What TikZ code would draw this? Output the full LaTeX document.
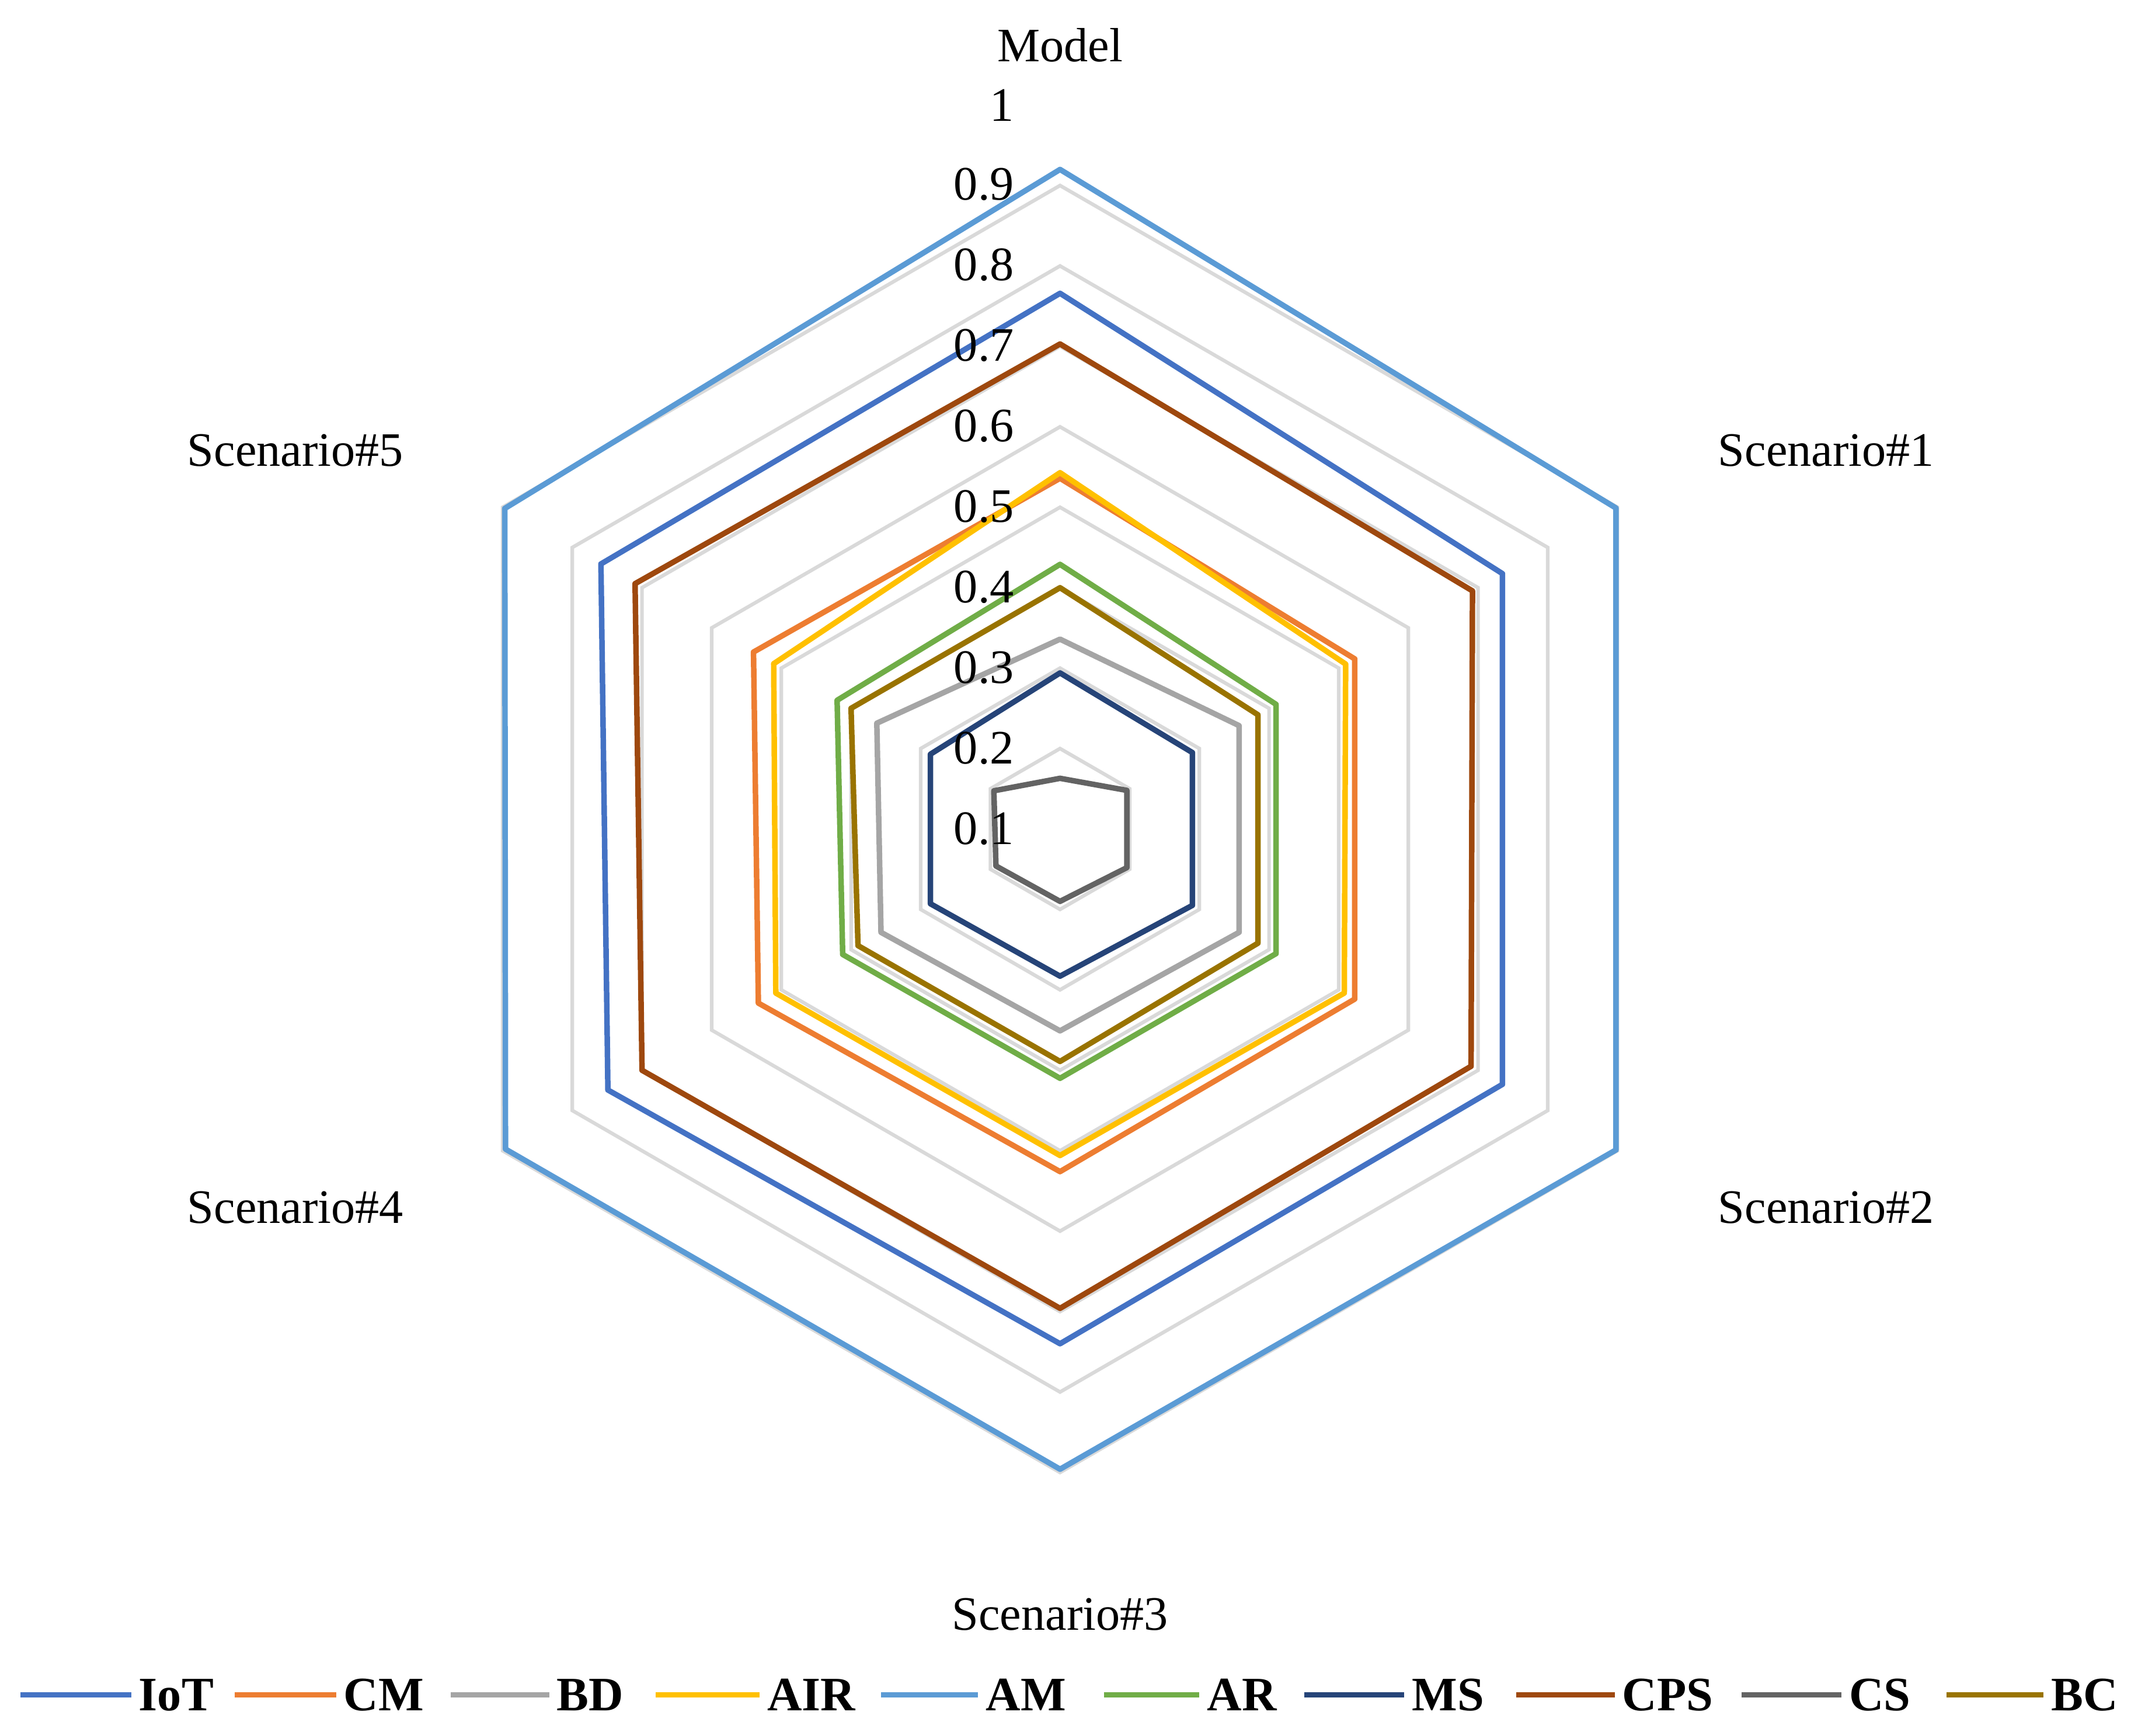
\documentclass[tikz,border=0pt]{standalone}
\usepackage{fontspec}
\setmainfont{Liberation Serif}
\definecolor{cIoT}{HTML}{4472C4}
\definecolor{cCM}{HTML}{ED7D31}
\definecolor{cBD}{HTML}{A5A5A5}
\definecolor{cAIR}{HTML}{FFC000}
\definecolor{cAM}{HTML}{5B9BD5}
\definecolor{cAR}{HTML}{70AD47}
\definecolor{cMS}{HTML}{264478}
\definecolor{cCPS}{HTML}{9E480E}
\definecolor{cCS}{HTML}{636363}
\definecolor{cBC}{HTML}{997300}
\definecolor{grid}{HTML}{D9D9D9}
\newcommand{\radar}[7]{\draw[series,#1] (90:{(#2-0.1)*588.9}) -- (30:{(#3-0.1)*588.9}) -- (-30:{(#4-0.1)*588.9}) -- (-90:{(#5-0.1)*588.9}) -- (-150:{(#6-0.1)*588.9}) -- (150:{(#7-0.1)*588.9}) -- cycle;}
\begin{document}
\begin{tikzpicture}[x=0.01cm,y=0.01cm,
  series/.style={line width=1.15pt,line join=round},
  gridline/.style={draw=grid,line width=0.75pt},
  lab/.style={font=\fontsize{10pt}{12pt}\selectfont,inner sep=0pt},
  leg/.style={font=\fontsize{10pt}{12pt}\selectfont\bfseries,inner sep=0pt,anchor=west}]
\useasboundingbox (0,0) rectangle (1560,1271);
\begin{scope}[shift={(776,664)}]
\foreach \v in {0.2,0.3,...,1.0}{
  \draw[gridline] (90:{(\v-0.1)*588.9}) -- (30:{(\v-0.1)*588.9}) -- (-30:{(\v-0.1)*588.9}) -- (-90:{(\v-0.1)*588.9}) -- (-150:{(\v-0.1)*588.9}) -- (150:{(\v-0.1)*588.9}) -- cycle;}
\radar{cIoT}{0.766}{0.735}{0.735}{0.74}{0.749}{0.759}
\radar{cCM}{0.536}{0.523}{0.523}{0.526}{0.533}{0.54}
\radar{cBD}{0.336}{0.357}{0.357}{0.351}{0.357}{0.363}
\radar{cAIR}{0.543}{0.51}{0.508}{0.506}{0.508}{0.511}
\radar{cAM}{0.92}{0.898}{0.898}{0.896}{0.896}{0.897}
\radar{cAR}{0.429}{0.41}{0.41}{0.41}{0.412}{0.42}
\radar{cMS}{0.294}{0.29}{0.29}{0.283}{0.286}{0.286}
\radar{cCPS}{0.703}{0.692}{0.69}{0.696}{0.70}{0.71}
\radar{cCS}{0.163}{0.196}{0.196}{0.19}{0.192}{0.195}
\radar{cBC}{0.40}{0.384}{0.384}{0.389}{0.39}{0.40}
\end{scope}
\foreach \t [count=\i from 0] in {0.1,0.2,0.3,0.4,0.5,0.6,0.7,0.8,0.9}{
  \node[lab,anchor=east] (t\i) at (743,{664+\i*59}) {\t};}
\node[lab,anchor=east] (t9) at (743,1194) {1};
\node[lab] (m) at (776,1238) {Model};
\node[lab,anchor=west] (s1) at (1257,941) {Scenario\#1};
\node[lab,anchor=west] (s2) at (1257,387) {Scenario\#2};
\node[lab] (s3) at (776,89) {Scenario\#3};
\node[lab,anchor=east] (s4) at (296,387) {Scenario\#4};
\node[lab,anchor=east] (s5) at (296,941) {Scenario\#5};
\foreach \n/\c/\xa/\xb in {IoT/cIoT/15/96,CM/cCM/172/246,BD/cBD/330/402,AIR/cAIR/480/556,AM/cAM/645/716,AR/cAR/808/878,MS/cMS/955/1028,CPS/cCPS/1110/1182,CS/cCS/1275/1348,BC/cBC/1425/1496}{
  \coordinate (a\n) at (\xa,30);
  \coordinate (b\n) at (\xb,30);
  \draw[series,\c] (a\n) -- (b\n);
  \node[leg] (l\n) at (\xb+5,30) {\n};}
\end{tikzpicture}
\end{document}
